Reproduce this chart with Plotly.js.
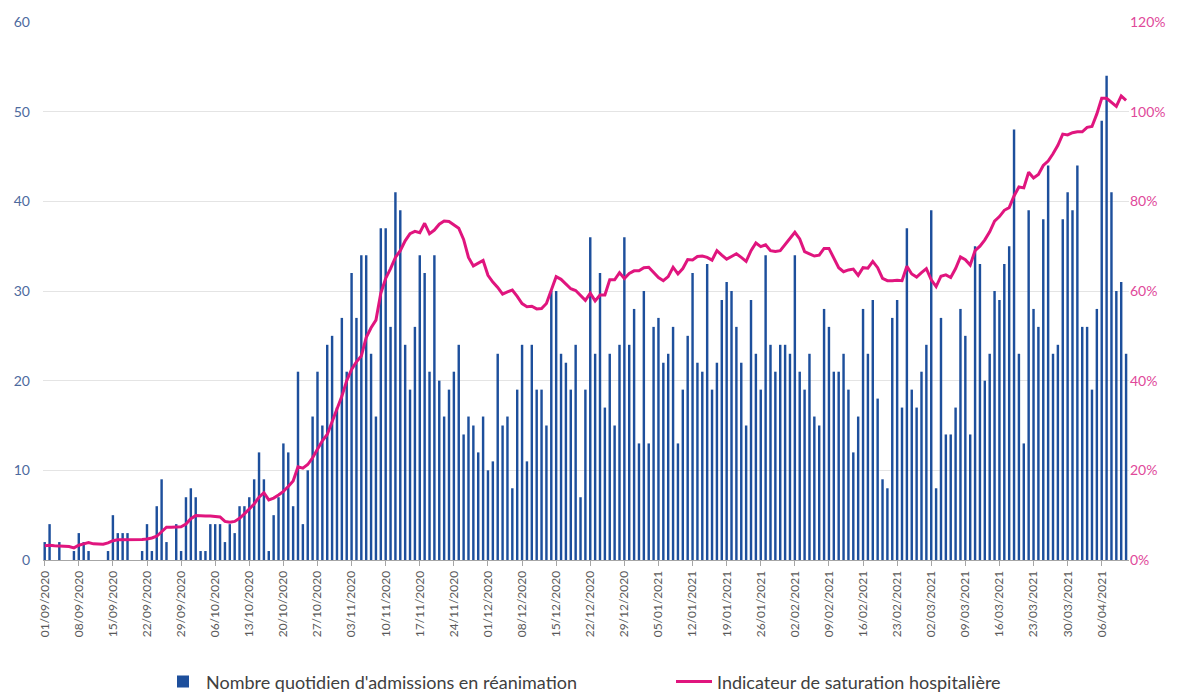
<!DOCTYPE html>
<html>
<head>
<meta charset="utf-8">
<script src="https://cdn.plot.ly/plotly-3.0.1.min.js"></script>
<style>html,body{margin:0;padding:0;background:#fff;}#chart{width:1182px;height:693px;}</style>
</head>
<body>
<div id="chart"></div>
<script>
// First day of the series (one value per day)
const startDate = '2020-09-01';

// Nombre quotidien d'admissions en réanimation
const admissions = [
 2,4,0,2,0,0,1,3,2,1, 0,0,0,1,5,3,3,3,0,0,
 1,4,1,6,9,2,0,4,1,7, 8,7,1,1,4,4,4,2,4,3,
 6,6,7,9,12,9,1,5,7,13, 12,6,21,4,10,16,21,15,24,25,
 17,27,21,32,27,34,34,23,16,37, 37,26,41,39,24,19,26,34,32,21,
 34,20,16,19,21,24,14,16,15,12, 16,10,11,23,15,16,8,19,24,11,
 24,19,19,15,30,30,23,22,19,24, 7,19,36,23,32,17,23,15,24,36,
 24,28,13,30,13,26,27,22,23,26, 13,19,25,32,22,21,33,19,22,29,
 31,30,26,22,15,29,23,19,34,24, 21,24,24,23,34,21,19,23,16,15,
 28,26,21,21,23,19,12,16,28,23, 29,18,9,8,27,29,17,37,19,17,
 21,24,39,8,27,14,14,17,28,25, 14,35,33,20,23,30,29,33,35,48,
 23,13,39,28,26,38,44,23,24,38, 41,39,44,26,26,19,28,49,54,41,
 30,31,23
];

// Indicateur de saturation hospitalière (%)
const saturation = [
 3.2,3.3,3.2,3.1,3.1,3.0,2.7,3.3,3.6,3.9, 3.6,3.5,3.5,3.8,4.3,4.5,4.5,4.5,4.5,4.5,
 4.6,4.7,4.9,5.3,6.3,7.3,7.3,7.3,7.4,8.0, 9.2,9.9,9.8,9.8,9.8,9.7,9.6,8.6,8.4,8.6,
 9.3,10.3,11.3,12.5,14.0,15.0,13.4,13.8,14.5,15.3, 16.4,17.6,20.8,20.5,21.3,22.8,24.7,26.6,28.0,31.0,
 33.7,36.5,40.0,42.5,44.2,45.5,49.6,51.8,53.5,59.5, 62.8,65.0,67.5,69.0,71.2,72.8,73.3,73.0,75.1,72.8,
 73.6,74.9,75.6,75.5,74.8,74.0,71.5,67.5,65.6,66.2, 66.8,63.5,62.0,60.8,59.3,59.8,60.2,58.8,57.2,56.5,
 56.6,56.0,56.1,57.2,60.0,63.2,62.6,61.6,60.5,60.1, 59.1,57.9,59.5,57.8,59.1,59.1,62.5,62.5,64.1,62.8,
 63.9,64.5,64.5,65.2,65.3,64.2,63.0,62.3,63.2,65.3, 63.8,65.0,67.0,66.9,67.7,67.8,67.5,66.9,69.0,68.0,
 67.1,67.7,68.3,67.5,66.6,69.0,70.7,69.9,70.3,69.0, 68.8,69.0,70.3,71.7,73.1,71.6,68.8,68.3,67.8,68.0,
 69.5,69.5,67.2,65.2,64.3,64.7,64.9,63.5,65.2,65.1, 66.6,65.2,62.8,62.3,62.3,62.4,62.3,65.5,63.8,63.1,
 64.1,65.0,62.5,61.0,63.3,63.6,63.0,65.0,67.6,67.0, 65.8,69.0,70.0,71.4,73.2,75.6,76.6,78.0,78.6,81.2,
 83.2,83.0,86.5,85.2,86.0,88.0,89.0,90.6,92.5,95.0, 94.8,95.3,95.5,95.5,96.5,96.7,99.5,103.0,103.0,102.0,
 101.2,103.5,102.5
];

const seriesNames = ["Nombre quotidien d'admissions en réanimation", "Indicateur de saturation hospitalière"];
const leftTicks = [0,10,20,30,40,50,60];
const rightTicks = [0,20,40,60,80,100,120];
const rightTickText = ['0%','20%','40%','60%','80%','100%','120%'];

function dayString(i){
  const d = new Date(startDate + 'T00:00:00Z');
  d.setUTCDate(d.getUTCDate() + i);
  return d.toISOString().slice(0,10);
}
const dates = admissions.map((_, i) => dayString(i));
const DAY = 86400000;

const traces = [
  {
    type: 'bar', x: dates, y: admissions, name: seriesNames[0],
    marker: {color: '#1d4f9c', line: {width: 0}},
    width: 0.5 * DAY,
    hoverinfo: 'x+y'
  },
  {
    type: 'scatter', mode: 'lines', x: dates, y: saturation, name: seriesNames[1],
    yaxis: 'y2',
    line: {color: '#e0157e', width: 3},
    hoverinfo: 'x+y'
  }
];

const first = new Date(startDate + 'T00:00:00Z').getTime();
const layout = {
  width: 1182, height: 693,
  margin: {l: 43, r: 53, t: 22, b: 133},
  paper_bgcolor: '#ffffff', plot_bgcolor: '#ffffff',
  font: {family: 'Lato, "Open Sans", sans-serif', size: 13},
  bargap: 0.45,
  showlegend: true,
  legend: {
    orientation: 'h', x: 160 / 1182, xref: 'container', xanchor: 'left',
    y: 0.016, yref: 'container', yanchor: 'middle',
    font: {size: 18, color: '#404040'}, traceorder: 'normal',
    itemwidth: 36, entrywidth: 460
  },
  xaxis: {
    type: 'date', automargin: false,
    range: [first - 0.35 * DAY, first + 222.6 * DAY],
    tick0: startDate, dtick: 7 * DAY,
    tickformat: '%d/%m/%Y', tickangle: -90,
    ticks: 'outside', ticklen: 5, tickcolor: '#a6a6a6',
    showline: true, linecolor: '#a6a6a6', linewidth: 1,
    showgrid: false, zeroline: false,
    tickfont: {size: 12, color: '#595959'}
  },
  yaxis: {
    automargin: false,
    range: [0, 60], tickvals: leftTicks,
    showgrid: true, gridcolor: '#e4e4e4', gridwidth: 1,
    zeroline: false, showline: false,
    tickfont: {size: 14, color: '#4d6a9e'},
    ticks: '', ticklabelstandoff: 12
  },
  yaxis2: {
    automargin: false,
    overlaying: 'y', side: 'right',
    range: [0, 120], tickvals: rightTicks, ticktext: rightTickText,
    showgrid: false, zeroline: false, showline: false,
    tickfont: {size: 14, color: '#e0489a'}
  }
};

Plotly.newPlot('chart', traces, layout, {displayModeBar: false, staticPlot: true});
</script>
</body>
</html>
